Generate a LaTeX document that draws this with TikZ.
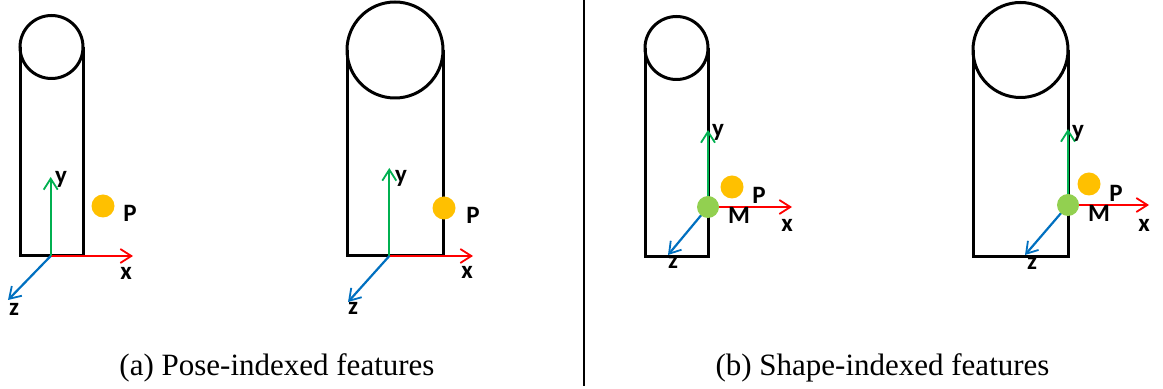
\documentclass[tikz,border=0pt]{standalone}
\usepackage{fontspec}
\setmainfont{Liberation Serif}
\newfontfamily\lblfont{Carlito}
\usepackage{xcolor}
\usetikzlibrary{positioning, arrows.meta, calc}

\definecolor{axisred}{HTML}{FF0000}
\definecolor{axisgreen}{HTML}{00B050}
\definecolor{axisblue}{HTML}{0070C0}
\definecolor{dotorange}{HTML}{FFC000}
\definecolor{dotgreen}{HTML}{92D050}

\begin{document}
\begin{tikzpicture}[
  x=0.5pt, y=-0.5pt,
  body/.style={line width=1.5pt, black},
  ax/.style={-{Straight Barb[length=5.5pt, width=7pt, line width=0.9pt]}, line width=1.1pt},
  xax/.style={ax, axisred},
  yax/.style={ax, axisgreen},
  zax/.style={ax, axisblue},
  pdot/.style={circle, fill=dotorange, inner sep=0pt, minimum size=11.5pt},
  mdot/.style={circle, fill=dotgreen, inner sep=0pt, minimum size=11pt},
  lbl/.style={font=\lblfont\bfseries\fontsize{12.5}{14}\selectfont, anchor=base, inner sep=0pt},
  captxt/.style={font=\fontsize{15.5}{18}\selectfont, anchor=base, inner sep=0pt}
]
\useasboundingbox (0,0) rectangle (1163,389);

%% (a) 1. Small cylinder, pose-indexed
\draw[body] (20,47) -- (20,256) -- (83,256) -- (83,47);
\draw[body] (51.5,47) circle[radius=31.5];
\coordinate (o1) at (50.7,256);
\coordinate (x1) at (133,256);
\coordinate (y1) at (50.7,177);
\coordinate (z1) at (8,300);
\draw[xax] (o1) -- (x1);
\draw[yax] (o1) -- (y1);
\draw[zax] (o1) -- (z1);
\node[pdot] (p1) at (103,206) {};
\node[lbl] (x1l) at (126,280) {x};
\node[lbl] (y1l) at (61,184) {y};
\node[lbl] (z1l) at (14,316) {z};
\node[lbl] (p1l) at (130,222) {P};

%% (a) 2. Large cylinder, pose-indexed
\draw[body] (347,50) -- (347,256) -- (443,256) -- (443,50);
\draw[body] (395,50) circle[radius=48];
\coordinate (o2) at (389.3,256);
\coordinate (x2) at (473,256);
\coordinate (y2) at (389.3,168);
\coordinate (z2) at (348,302);
\draw[xax] (o2) -- (x2);
\draw[yax] (o2) -- (y2);
\draw[zax] (o2) -- (z2);
\node[pdot] (p2) at (444,208) {};
\node[lbl] (x2l) at (467,279) {x};
\node[lbl] (y2l) at (401,183) {y};
\node[lbl] (z2l) at (353,315) {z};
\node[lbl] (p2l) at (473,224) {P};

%% Divider
\coordinate (divtop) at (584,0);
\coordinate (divbot) at (584,386);
\draw[line width=0.6pt] (divtop) -- (divbot);

%% (b) 3. Small cylinder, shape-indexed
\draw[body] (645,48) -- (645,257) -- (708,257) -- (708,48);
\draw[body] (676.5,48) circle[radius=31.5];
\coordinate (o3) at (708,207);
\coordinate (x3) at (792,207);
\coordinate (y3) at (708,130);
\coordinate (z3) at (668,255);
\draw[xax] (o3) -- (x3);
\draw[yax] (o3) -- (y3);
\draw[zax] (o3) -- (z3);
\node[mdot] (m3) at (o3) {};
\node[pdot] (p3) at (732,187) {};
\node[lbl] (x3l) at (787,232) {x};
\node[lbl] (y3l) at (718,137) {y};
\node[lbl] (z3l) at (673,269) {z};
\node[lbl] (p3l) at (759,204) {P};
\node[lbl] (m3l) at (739,224) {M};

%% (b) 4. Large cylinder, shape-indexed
\draw[body] (973,50) -- (973,257) -- (1068,257) -- (1068,50);
\draw[body] (1020.5,50) circle[radius=47.5];
\coordinate (o4) at (1068,205);
\coordinate (x4) at (1149,205);
\coordinate (y4) at (1068,129);
\coordinate (z4) at (1025,255);
\draw[xax] (o4) -- (x4);
\draw[yax] (o4) -- (y4);
\draw[zax] (o4) -- (z4);
\node[mdot] (m4) at (o4) {};
\node[pdot] (p4) at (1089,184) {};
\node[lbl] (x4l) at (1144,232) {x};
\node[lbl] (y4l) at (1078,138) {y};
\node[lbl] (z4l) at (1032,270) {z};
\node[lbl] (p4l) at (1116,202) {P};
\node[lbl] (m4l) at (1099,222) {M};

%% Captions
\node[captxt] (capa) at (277,376) {(a) Pose-indexed features};
\node[captxt] (capb) at (882.5,376) {(b) Shape-indexed features};

\end{tikzpicture}
\end{document}
